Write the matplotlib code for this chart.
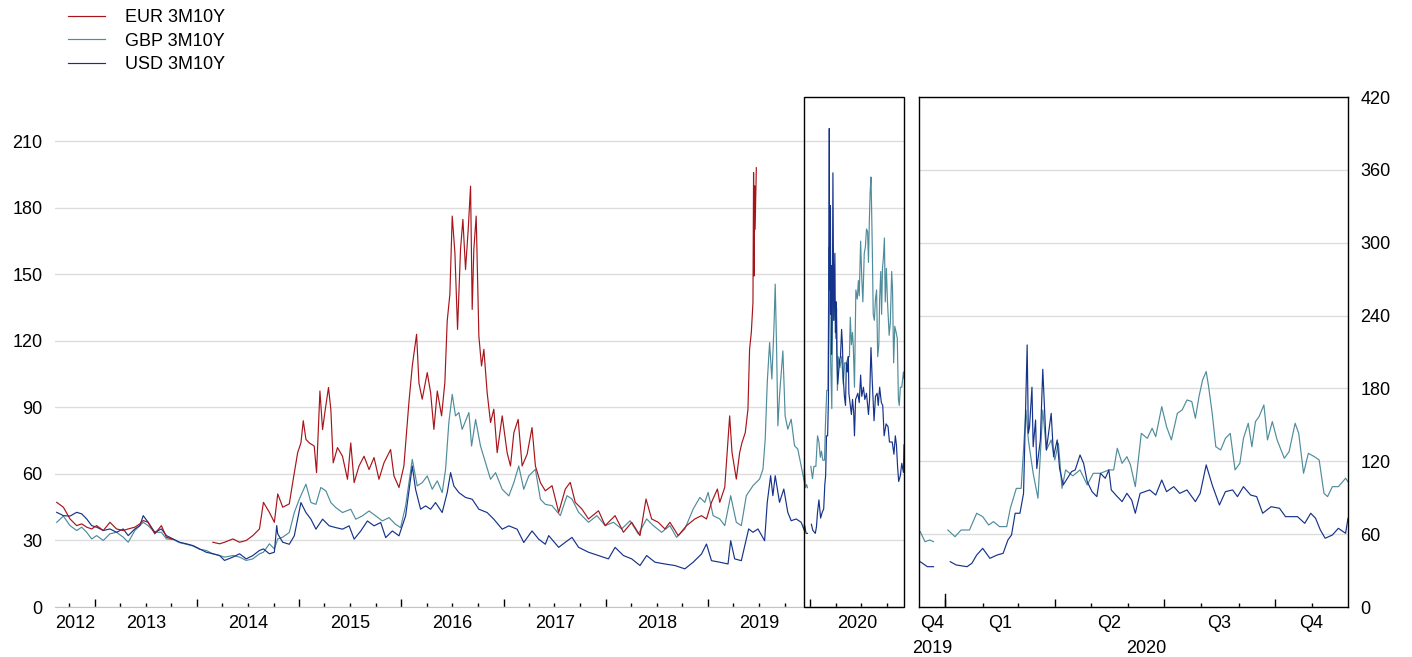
import numpy as np
import pandas as pd
import matplotlib
matplotlib.use("Agg")
import matplotlib.pyplot as plt
import matplotlib.dates as mdates
from matplotlib.patches import Rectangle
from matplotlib.lines import Line2D

plt.rcParams['font.family'] = ['Liberation Sans', 'DejaVu Sans']

# ---- data (bp) ----
# up to Dec 2019: decimal year / value
eur_t = [2012.626, 2012.691, 2012.756, 2012.821, 2012.870, 2012.919, 2012.967, 2013.016, 2013.081, 2013.146,
         2013.211, 2013.276, 2013.325, 2013.390, 2013.439, 2013.472, 2013.520, 2013.585, 2013.650, 2013.699,
         2013.764, 2013.900, 2014.154, 2014.220, 2014.268, 2014.350, 2014.415, 2014.480, 2014.545, 2014.610,
         2014.649, 2014.707, 2014.756, 2014.789, 2014.838, 2014.902, 2014.935, 2014.984, 2015.016, 2015.039,
         2015.065, 2015.098, 2015.146, 2015.169, 2015.202, 2015.228, 2015.254, 2015.286, 2015.309, 2015.332,
         2015.374, 2015.423, 2015.472, 2015.504, 2015.537, 2015.585, 2015.634, 2015.683, 2015.732, 2015.780,
         2015.829, 2015.894, 2015.927, 2015.976, 2016.024, 2016.073, 2016.106, 2016.148, 2016.171, 2016.203,
         2016.252, 2016.285, 2016.317, 2016.350, 2016.392, 2016.424, 2016.447, 2016.473, 2016.496, 2016.522,
         2016.548, 2016.577, 2016.600, 2016.626, 2016.652, 2016.675, 2016.691, 2016.707, 2016.730, 2016.756,
         2016.782, 2016.805, 2016.837, 2016.870, 2016.902, 2016.935, 2016.984, 2017.032, 2017.065, 2017.098,
         2017.140, 2017.179, 2017.228, 2017.276, 2017.309, 2017.358, 2017.406, 2017.472, 2017.537, 2017.602,
         2017.650, 2017.699, 2017.764, 2017.829, 2017.927, 2017.992, 2018.089, 2018.171, 2018.252, 2018.333,
         2018.392, 2018.447, 2018.512, 2018.577, 2018.626, 2018.707, 2018.789, 2018.870, 2018.935, 2018.984,
         2019.033, 2019.091, 2019.114, 2019.163, 2019.211, 2019.234, 2019.276, 2019.309, 2019.332, 2019.364,
         2019.390, 2019.406, 2019.423, 2019.439, 2019.445, 2019.449, 2019.455, 2019.460, 2019.472]
eur_v = [47.2, 45.0, 39.7, 36.7, 37.5, 36.0, 35.2, 36.7, 34.5, 38.2,
         35.2, 34.5, 35.2, 36.0, 37.5, 39.0, 38.2, 33.0, 36.7, 31.5,
         30.5, np.nan, 29.2, 28.5, 29.2, 30.7, 29.2, 30.0, 32.2, 35.2,
         47.2, 42.7, 38.2, 51.0, 45.0, 46.5, 56.0, 69.6, 74.0, 84.0,
         75.6, 74.0, 72.6, 60.6, 97.4, 80.0, 89.0, 99.0, 89.0, 65.0,
         71.9, 68.0, 57.6, 74.0, 56.1, 63.6, 68.0, 62.0, 67.4, 57.6,
         65.0, 71.0, 59.1, 53.9, 63.6, 92.2, 108.7, 123.0, 101.0, 93.7,
         105.7, 96.7, 80.1, 97.4, 86.2, 101.2, 129.0, 141.0, 176.3, 159.8,
         125.2, 161.3, 174.8, 152.2, 170.3, 189.8, 134.2, 161.3, 176.3, 122.2,
         108.7, 116.2, 96.7, 83.2, 89.2, 69.6, 86.2, 69.6, 63.6, 78.6,
         84.6, 63.6, 68.9, 80.9, 63.6, 56.1, 52.4, 54.7, 42.7, 53.2,
         56.2, 47.2, 44.2, 39.7, 43.4, 36.7, 41.2, 33.7, 38.2, 32.2,
         48.7, 39.7, 38.2, 35.2, 38.2, 32.2, 36.7, 39.7, 41.2, 39.7,
         47.2, 53.2, 47.2, 54.0, 86.2, 69.7, 57.7, 69.7, 74.2, 78.7,
         89.2, 116.3, 123.8, 137.3, 195.9, 149.3, 189.9, 170.3, 198.1]

gbp_t = [2012.626, 2012.691, 2012.756, 2012.821, 2012.870, 2012.919, 2012.967, 2013.016, 2013.081, 2013.146,
         2013.211, 2013.276, 2013.325, 2013.390, 2013.439, 2013.472, 2013.520, 2013.585, 2013.650, 2013.699,
         2013.764, 2013.829, 2013.894, 2013.959, 2014.024, 2014.089, 2014.154, 2014.220, 2014.268, 2014.350,
         2014.415, 2014.480, 2014.545, 2014.610, 2014.649, 2014.707, 2014.756, 2014.789, 2014.838, 2014.902,
         2014.951, 2015.000, 2015.065, 2015.114, 2015.163, 2015.211, 2015.260, 2015.309, 2015.358, 2015.423,
         2015.504, 2015.553, 2015.618, 2015.683, 2015.748, 2015.813, 2015.878, 2015.943, 2015.992, 2016.041,
         2016.106, 2016.154, 2016.203, 2016.252, 2016.301, 2016.350, 2016.398, 2016.431, 2016.463, 2016.496,
         2016.528, 2016.561, 2016.593, 2016.659, 2016.685, 2016.724, 2016.772, 2016.821, 2016.870, 2016.919,
         2016.984, 2017.049, 2017.098, 2017.146, 2017.195, 2017.244, 2017.309, 2017.358, 2017.406, 2017.472,
         2017.553, 2017.618, 2017.667, 2017.732, 2017.829, 2017.911, 2017.992, 2018.073, 2018.154, 2018.236,
         2018.317, 2018.398, 2018.463, 2018.545, 2018.626, 2018.691, 2018.772, 2018.854, 2018.919, 2018.968,
         2019.000, 2019.049, 2019.114, 2019.163, 2019.221, 2019.276, 2019.325, 2019.374, 2019.439, 2019.504,
         2019.537, 2019.559, 2019.579, 2019.602, 2019.624, 2019.644, 2019.657, 2019.670, 2019.683, 2019.699,
         2019.732, 2019.754, 2019.780, 2019.813, 2019.846, 2019.878, 2019.911, 2019.943]
gbp_v = [38.2, 41.0, 36.7, 34.5, 36.0, 33.7, 30.7, 32.2, 30.0, 33.0,
         33.7, 31.5, 29.2, 34.5, 36.7, 38.2, 36.7, 33.7, 33.7, 30.7,
         30.5, 29.0, 28.3, 27.5, 26.0, 25.5, 24.0, 23.2, 22.5, 23.2,
         22.5, 21.0, 21.7, 24.0, 24.7, 28.5, 26.2, 30.7, 31.5, 33.6,
         42.6, 48.6, 55.4, 47.1, 46.3, 53.9, 52.4, 47.1, 44.8, 42.6,
         44.1, 39.6, 41.1, 43.3, 41.1, 38.8, 40.3, 37.3, 35.8, 45.6,
         66.6, 54.6, 56.1, 59.1, 53.1, 56.9, 51.6, 62.1, 83.2, 95.9,
         86.2, 87.7, 80.1, 87.7, 72.6, 84.6, 72.6, 65.1, 57.6, 60.6,
         53.1, 50.1, 56.1, 63.6, 53.1, 59.1, 62.1, 48.6, 46.3, 45.7,
         41.2, 50.2, 48.7, 42.7, 38.2, 41.2, 36.7, 38.2, 35.2, 38.9,
         32.9, 39.7, 36.7, 33.7, 36.7, 31.4, 35.2, 44.2, 49.4, 47.2,
         51.7, 41.2, 39.7, 36.7, 50.2, 38.2, 36.7, 50.2, 54.7, 57.7,
         62.2, 75.7, 101.3, 119.3, 102.8, 125.3, 145.6, 117.8, 81.7, 95.3,
         115.5, 86.2, 80.2, 84.7, 72.7, 71.2, 63.7, 56.2]

usd_t = [2012.626, 2012.691, 2012.756, 2012.821, 2012.870, 2012.919, 2012.967, 2013.016, 2013.081, 2013.146,
         2013.211, 2013.276, 2013.325, 2013.390, 2013.439, 2013.472, 2013.520, 2013.585, 2013.650, 2013.699,
         2013.764, 2013.829, 2013.894, 2013.959, 2014.024, 2014.089, 2014.154, 2014.220, 2014.268, 2014.350,
         2014.415, 2014.480, 2014.545, 2014.610, 2014.649, 2014.707, 2014.756, 2014.779, 2014.789, 2014.838,
         2014.902, 2014.951, 2015.016, 2015.065, 2015.114, 2015.163, 2015.228, 2015.293, 2015.358, 2015.423,
         2015.488, 2015.537, 2015.602, 2015.667, 2015.732, 2015.797, 2015.846, 2015.911, 2015.976, 2016.041,
         2016.106, 2016.138, 2016.187, 2016.236, 2016.285, 2016.333, 2016.398, 2016.447, 2016.480, 2016.512,
         2016.561, 2016.626, 2016.691, 2016.756, 2016.837, 2016.902, 2016.984, 2017.049, 2017.130, 2017.195,
         2017.276, 2017.341, 2017.406, 2017.439, 2017.537, 2017.602, 2017.667, 2017.732, 2017.829, 2017.927,
         2018.024, 2018.089, 2018.171, 2018.252, 2018.333, 2018.398, 2018.480, 2018.577, 2018.675, 2018.772,
         2018.854, 2018.935, 2018.984, 2019.033, 2019.114, 2019.195, 2019.221, 2019.260, 2019.325, 2019.374,
         2019.397, 2019.439, 2019.488, 2019.553, 2019.579, 2019.612, 2019.634, 2019.657, 2019.699, 2019.741,
         2019.780, 2019.813, 2019.862, 2019.911, 2019.943]
usd_v = [42.7, 41.2, 41.0, 42.7, 42.0, 39.7, 36.7, 36.0, 34.5, 35.2,
         33.7, 35.2, 32.2, 35.2, 36.7, 41.2, 38.2, 33.7, 35.2, 32.2,
         30.7, 29.2, 28.5, 27.7, 26.2, 24.7, 24.0, 23.2, 21.0, 22.5,
         24.0, 21.7, 23.2, 25.5, 26.2, 24.0, 24.7, 36.7, 33.0, 29.2,
         28.3, 32.1, 47.1, 42.6, 39.6, 35.1, 39.6, 36.6, 35.8, 35.1,
         36.6, 30.6, 34.3, 38.8, 36.6, 38.1, 31.3, 34.3, 32.1, 41.1,
         63.6, 53.1, 44.1, 45.6, 44.1, 47.1, 42.6, 51.6, 60.6, 54.6,
         51.6, 49.4, 48.6, 44.1, 42.6, 39.6, 35.1, 36.6, 35.1, 29.1,
         34.3, 30.6, 28.3, 32.2, 26.9, 29.2, 31.4, 26.9, 24.7, 23.2,
         21.7, 26.9, 23.2, 21.7, 18.7, 23.2, 20.2, 19.4, 18.7, 17.2,
         20.2, 23.9, 28.4, 20.9, 20.2, 19.4, 29.9, 21.7, 20.9, 30.7,
         35.2, 33.7, 35.2, 29.9, 47.2, 59.2, 50.2, 59.2, 47.2, 53.2,
         42.7, 38.9, 39.7, 38.2, 34.4]

# Dec 2019 - Nov 2020 (shown in both panels)
gbp20_d = ["2019-12-11", "2019-12-15", "2019-12-19", "2019-12-22", "2019-12-25", "2019-12-27", "2020-01-01",
           "2020-01-03", "2020-01-09", "2020-01-14", "2020-01-21", "2020-01-27", "2020-02-01", "2020-02-06",
           "2020-02-10", "2020-02-15", "2020-02-21", "2020-02-24", "2020-02-29", "2020-03-04", "2020-03-08",
           "2020-03-10", "2020-03-14", "2020-03-18", "2020-03-22", "2020-03-25", "2020-03-29", "2020-04-01",
           "2020-04-04", "2020-04-07", "2020-04-10", "2020-04-16", "2020-04-22", "2020-04-28", "2020-05-03",
           "2020-05-09", "2020-05-16", "2020-05-20", "2020-05-23", "2020-05-27", "2020-05-31", "2020-06-03",
           "2020-06-07", "2020-06-12", "2020-06-17", "2020-06-21", "2020-06-24", "2020-06-29", "2020-07-03",
           "2020-07-07", "2020-07-12", "2020-07-16", "2020-07-20", "2020-07-24", "2020-07-27", "2020-07-30",
           "2020-08-02", "2020-08-05", "2020-08-07", "2020-08-10", "2020-08-13", "2020-08-17", "2020-08-21",
           "2020-08-25", "2020-08-29", "2020-09-02", "2020-09-05", "2020-09-09", "2020-09-12", "2020-09-15",
           "2020-09-18", "2020-09-22", "2020-09-25", "2020-09-29", "2020-10-03", "2020-10-09", "2020-10-13",
           "2020-10-18", "2020-10-21", "2020-10-25", "2020-10-29", "2020-11-03", "2020-11-07", "2020-11-11",
           "2020-11-14", "2020-11-18", "2020-11-23", "2020-11-29", "2020-12-01"]
gbp20_v = [62.1, 53.8, 55.2, 53.8, np.nan, 56.6, np.nan,
           63.4, 57.9, 63.4, 63.4, 77.2, 74.4, 67.5,
           70.3, 66.2, 66.2, 81.3, 97.7, 97.7, 162.3,
           137.6, 110.1, 89.5, 162.3, 129.3, 137.6, 121.1,
           134.8, 97.7, 112.9, 108.0, 112.9, 100.5, 110.1,
           110.1, 112.9, 112.9, 130.7, 118.3, 123.8, 117.0,
           99.1, 143.0, 138.9, 147.2, 140.3, 165.0, 148.5,
           137.6, 159.5, 162.3, 170.5, 169.2, 155.4, 173.3,
           187.0, 193.9, 181.5, 159.5, 132.0, 129.3, 138.9,
           143.0, 112.9, 118.3, 138.9, 151.3, 132.0, 152.7,
           156.8, 166.4, 137.6, 152.7, 137.6, 122.5, 128.0,
           151.3, 143.0, 110.1, 126.6, 123.8, 121.1, 93.6,
           90.9, 99.1, 99.1, 106.0, 103.2]

usd20_d = ["2019-12-11", "2019-12-17", "2019-12-22", "2019-12-25", "2019-12-30", "2020-01-01", "2020-01-05",
           "2020-01-10", "2020-01-19", "2020-01-23", "2020-01-27", "2020-02-01", "2020-02-07", "2020-02-13",
           "2020-02-18", "2020-02-22", "2020-02-25", "2020-02-28", "2020-03-03", "2020-03-06", "2020-03-09",
           "2020-03-10", "2020-03-11", "2020-03-13", "2020-03-14", "2020-03-16", "2020-03-17", "2020-03-20",
           "2020-03-22", "2020-03-25", "2020-03-29", "2020-03-31", "2020-04-03", "2020-04-05", "2020-04-08",
           "2020-04-15", "2020-04-18", "2020-04-22", "2020-04-25", "2020-04-28", "2020-05-02", "2020-05-06",
           "2020-05-09", "2020-05-13", "2020-05-16", "2020-05-18", "2020-05-23", "2020-05-27", "2020-05-31",
           "2020-06-04", "2020-06-07", "2020-06-11", "2020-06-15", "2020-06-19", "2020-06-24", "2020-06-29",
           "2020-07-03", "2020-07-09", "2020-07-14", "2020-07-20", "2020-07-27", "2020-07-31", "2020-08-05",
           "2020-08-10", "2020-08-16", "2020-08-21", "2020-08-27", "2020-08-31", "2020-09-05", "2020-09-11",
           "2020-09-16", "2020-09-21", "2020-09-28", "2020-10-05", "2020-10-10", "2020-10-20", "2020-10-26",
           "2020-10-31", "2020-11-04", "2020-11-08", "2020-11-12", "2020-11-18", "2020-11-23", "2020-11-29",
           "2020-12-01"]
usd20_v = [37.3, 33.2, 33.2, np.nan, 33.2, np.nan, 37.3,
           34.6, 33.2, 36.0, 42.8, 48.3, 40.1, 42.8,
           44.2, 55.2, 59.3, 77.2, 77.2, 93.6, 215.8,
           143.0, 148.5, 181.0, 132.0, 154.0, 114.0, 137.6,
           195.8, 129.3, 159.5, 123.8, 137.6, 114.0, 100.5,
           111.5, 112.9, 125.2, 118.3, 103.2, 95.0, 90.9,
           110.1, 106.0, 112.9, 96.4, 90.9, 86.8, 93.6,
           88.1, 77.2, 93.6, 95.0, 96.4, 92.2, 104.6,
           95.0, 99.1, 93.6, 96.4, 86.8, 93.6, 117.0,
           100.5, 84.0, 95.0, 96.4, 90.9, 99.1, 92.2,
           90.9, 77.2, 82.6, 81.3, 74.4, 74.4, 68.9,
           77.2, 73.1, 63.4, 56.6, 59.3, 64.8, 60.7,
           73.1]

labels = ["EUR 3M10Y", "GBP 3M10Y", "USD 3M10Y"]
colors = ["#a8141a", "#4f8c9c", "#15338a"]
left_yticks = [0, 30, 60, 90, 120, 150, 180, 210]
right_yticks = [0, 60, 120, 180, 240, 300, 360, 420]


def year_to_ts(y):
    yr = int(np.floor(y))
    start = pd.Timestamp(yr, 1, 1)
    return start + (pd.Timestamp(yr + 1, 1, 1) - start) * (y - yr)


def dates_from_years(ys):
    return pd.to_datetime([year_to_ts(y) for y in ys])


eur_x = dates_from_years(eur_t)
gbp_x = dates_from_years(gbp_t).append(pd.to_datetime(gbp20_d))
usd_x = dates_from_years(usd_t).append(pd.to_datetime(usd20_d))
gbp_y = list(gbp_v) + list(gbp20_v)
usd_y = list(usd_v) + list(usd20_v)

left_start, left_end = pd.Timestamp("2012-08-11"), pd.Timestamp("2020-12-01")
zoom_start, zoom_end = pd.Timestamp("2019-12-10"), pd.Timestamp("2020-12-01")

fig = plt.figure(figsize=(14.12, 6.57), dpi=100)
ax = fig.add_axes([55 / 1412, 50 / 657, 849 / 1412, 510 / 657])
ax2 = fig.add_axes([919 / 1412, 50 / 657, 429 / 1412, 510 / 657])

lw = 0.85
# left panel
ax.plot(gbp_x, gbp_y, color=colors[1], lw=lw)
ax.plot(usd_x, usd_y, color=colors[2], lw=lw)
ax.plot(eur_x, eur_v, color=colors[0], lw=lw)
ax.set_xlim(left_start, left_end)
ax.set_ylim(0, 230)
ax.set_yticks(left_yticks)
ax.grid(axis='y', color='#dddddd', lw=1)
ax.set_axisbelow(True)
for s in ['top', 'left', 'right']:
    ax.spines[s].set_visible(False)
ax.spines['bottom'].set_color('#c4c4c4')
ax.tick_params(axis='y', length=0, labelsize=13, pad=9)
ax.set_xticks(pd.date_range("2013-01-01", "2020-01-01", freq="YS"))
ax.set_xticks(pd.date_range("2012-10-01", "2020-10-01", freq="QS"), minor=True)
ax.tick_params(axis='x', which='major', direction='in', length=6, width=1, labelbottom=False)
ax.tick_params(axis='x', which='minor', direction='in', length=3, width=1, labelbottom=False)

for yr in range(2012, 2021):
    a = max(pd.Timestamp(yr, 1, 1), left_start)
    b = min(pd.Timestamp(yr + 1, 1, 1), left_end)
    mid = a + (b - a) / 2
    ax.annotate(str(yr), xy=(mid, 0), xycoords=('data', 'axes fraction'),
                xytext=(0, -6), textcoords='offset points', ha='center', va='top', fontsize=13)

z0 = mdates.date2num(zoom_start)
z1 = mdates.date2num(zoom_end)
ax.add_patch(Rectangle((z0, 0), z1 - z0, 230, fill=False, ec='black', lw=1, clip_on=False, zorder=5))

# right panel
ax2.plot(pd.to_datetime(gbp20_d), gbp20_v, color=colors[1], lw=lw)
ax2.plot(pd.to_datetime(usd20_d), usd20_v, color=colors[2], lw=lw)
ax2.set_xlim(zoom_start, zoom_end)
ax2.set_ylim(0, 420)
ax2.set_yticks(right_yticks)
ax2.yaxis.tick_right()
ax2.grid(axis='y', color='#dddddd', lw=1)
ax2.set_axisbelow(True)
for s in ax2.spines.values():
    s.set_color('black')
    s.set_linewidth(1)
ax2.tick_params(axis='y', length=0, labelsize=13, pad=9)
ax2.set_xticks(pd.date_range("2020-01-01", "2020-10-01", freq="QS"))
ax2.set_xticks(pd.date_range("2020-01-01", "2020-11-01", freq="MS"), minor=True)
ax2.tick_params(axis='x', which='major', direction='in', length=6, width=1, labelbottom=False)
ax2.tick_params(axis='x', which='minor', direction='in', length=3, width=1, labelbottom=False)
ax2.axvline(pd.Timestamp("2020-01-01"), ymin=0, ymax=13 / 510, color='black', lw=1)

q_edges = [zoom_start, pd.Timestamp("2020-01-01"), pd.Timestamp("2020-04-01"),
           pd.Timestamp("2020-07-01"), pd.Timestamp("2020-10-01"), zoom_end]
q_names = ["Q4", "Q1", "Q2", "Q3", "Q4"]
for i, q in enumerate(q_names):
    mid = q_edges[i] + (q_edges[i + 1] - q_edges[i]) / 2
    ax2.annotate(q, xy=(mid, 0), xycoords=('data', 'axes fraction'),
                 xytext=(0, -6), textcoords='offset points', ha='center', va='top', fontsize=13)
for yr, a, b in [(2019, zoom_start, pd.Timestamp("2020-01-01")), (2020, pd.Timestamp("2020-01-01"), zoom_end)]:
    mid = a + (b - a) / 2
    ax2.annotate(str(yr), xy=(mid, 0), xycoords=('data', 'axes fraction'),
                 xytext=(0, -24), textcoords='offset points', ha='center', va='top', fontsize=13)

handles = [Line2D([], [], color=c, lw=lw) for c in colors]
fig.legend(handles, labels, loc='upper left', bbox_to_anchor=(68 / 1412, 1 - 9 / 657),
           frameon=False, fontsize=13, handlelength=2.05, handletextpad=1.1,
           labelspacing=0.36, borderpad=0, borderaxespad=0)

fig.savefig("out.png", dpi=100)
